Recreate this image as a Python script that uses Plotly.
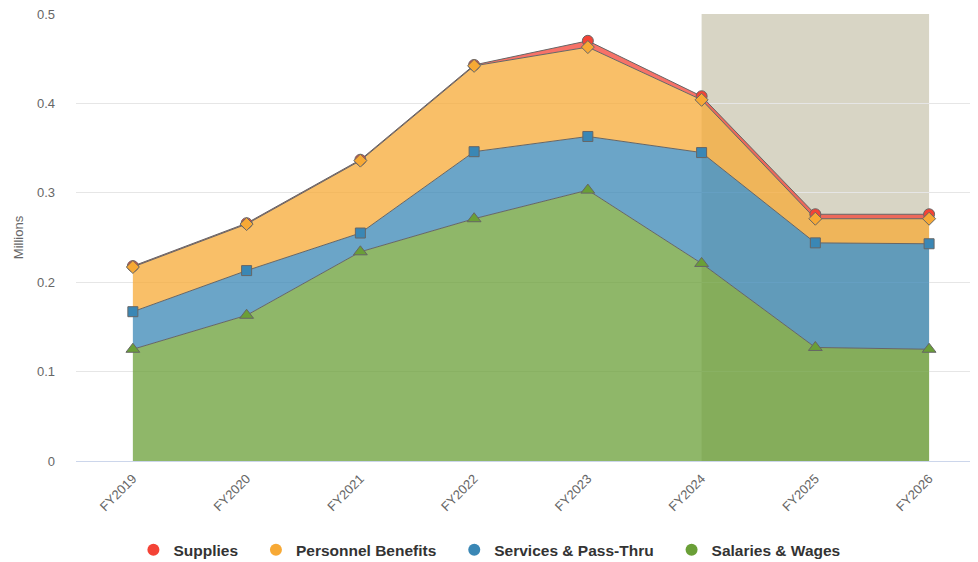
import numpy as np
import plotly.graph_objects as go

years = ["FY2019", "FY2020", "FY2021", "FY2022", "FY2023", "FY2024", "FY2025", "FY2026"]

# values in millions, bottom of the stack first
salaries = [0.125, 0.163, 0.234, 0.271, 0.303, 0.221, 0.127, 0.125]
services = [0.042, 0.050, 0.021, 0.075, 0.060, 0.124, 0.117, 0.118]
benefits = [0.050, 0.052, 0.081, 0.096, 0.100, 0.059, 0.027, 0.028]
supplies = [0.001, 0.001, 0.001, 0.001, 0.007, 0.004, 0.005, 0.005]

band_start = "FY2024"
band_end = "FY2026"

series = [
    ("Salaries & Wages", salaries, "#6a9f37", "triangle-up", 12),
    ("Services & Pass-Thru", services, "#3a87b5", "square", 10),
    ("Personnel Benefits", benefits, "#f7a935", "diamond", 10),
    ("Supplies", supplies, "#f44336", "circle", 11),
]


def rgba(hex_color, a):
    h = hex_color.lstrip("#")
    r, g, b = int(h[0:2], 16), int(h[2:4], 16), int(h[4:6], 16)
    return f"rgba({r},{g},{b},{a})"


fig = go.Figure()

# stacked areas
for name, vals, color, sym, sz in series:
    fig.add_trace(go.Scatter(
        x=years, y=vals, name=name, mode="lines", stackgroup="one",
        line=dict(color="#666666", width=1), fillcolor=rgba(color, 0.75),
        showlegend=False, hoverinfo="skip",
    ))

# markers, drawn top series first so lower markers sit on top
tops = np.cumsum([s[1] for s in series], axis=0)
for i in reversed(range(len(series))):
    name, vals, color, sym, sz = series[i]
    fig.add_trace(go.Scatter(
        x=years, y=tops[i], mode="markers", showlegend=False,
        marker=dict(symbol=sym, size=sz, color=color,
                    line=dict(color="#666666", width=1)),
    ))

# legend entries (trailing nbsp widens the gap between items)
for name, vals, color, sym, sz in reversed(series):
    fig.add_trace(go.Scatter(
        x=[None], y=[None], mode="markers", name=name + "\u00a0\u00a0\u00a0",
        marker=dict(symbol="circle", size=14, color=color),
    ))

fig.add_shape(type="rect", xref="x", yref="y", x0=band_start, x1=band_end, y0=0, y1=0.5,
              fillcolor="#d8d5c5", line_width=0, layer="below")

# page body has an 8px margin, so the figure is a bit smaller than the window
fig.update_layout(
    width=970, height=554,
    margin=dict(l=68, r=0, t=6, b=101),
    paper_bgcolor="white", plot_bgcolor="white",
    font=dict(family="Liberation Sans, Arial, sans-serif", color="#666666", size=12),
    legend=dict(orientation="h", xref="container", yref="container",
                x=0.503, xanchor="center", y=0.052, yanchor="top",
                traceorder="normal",
                font=dict(size=15.5, color="#333333", family="Liberation Sans, Arial, sans-serif", weight="bold"),
                itemsizing="constant", tracegroupgap=0),
    xaxis=dict(type="category", range=[-0.5, 7.43], showgrid=False, zeroline=False,
               showline=True, linecolor="#ccd6eb", linewidth=1, tickangle=-45,
               tickfont=dict(size=13, color="#666666"), ticks="", automargin=False,
               ticklabelstandoff=4),
    yaxis=dict(range=[0, 0.5], dtick=0.1, showgrid=True, gridcolor="#e6e6e6", zeroline=False,
               title=dict(text="Millions", font=dict(size=13, color="#666666"), standoff=10),
               tickfont=dict(size=13, color="#666666"), ticklabelstandoff=20, automargin=False,
               ticklabeloverflow="allow"),
)

fig.write_html("out.html")
